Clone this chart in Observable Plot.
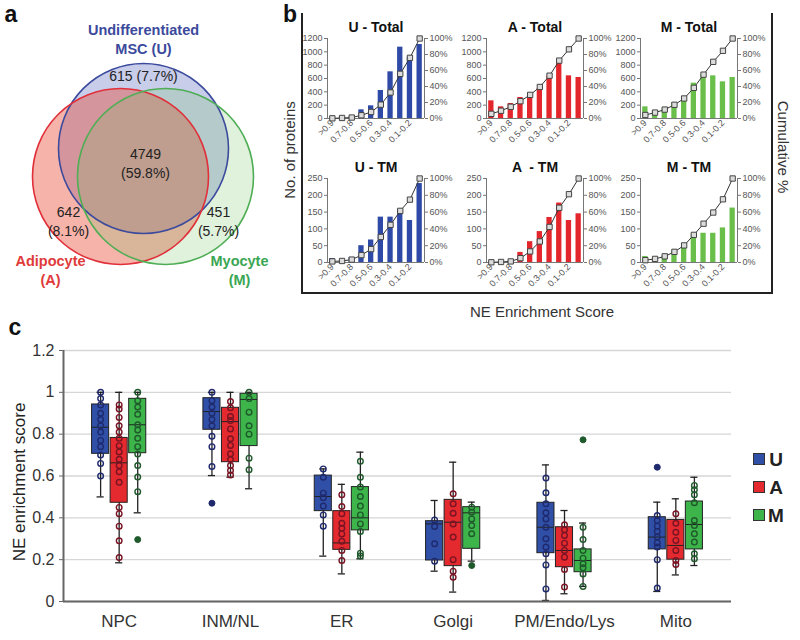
<!DOCTYPE html>
<html>
<head>
<meta charset="utf-8">
<script src="https://cdn.jsdelivr.net/npm/d3@7"></script>
<script src="https://cdn.jsdelivr.net/npm/@observablehq/plot@0.6"></script>
<style>
  html, body { margin: 0; padding: 0; background: #fff; }
  #page { position: relative; width: 800px; height: 640px; overflow: hidden; font-family: "Liberation Sans", Arial, sans-serif; color: #222; }
  .lbl { position: absolute; white-space: nowrap; transform: translate(-50%, -50%); line-height: 1; }
</style>
</head>
<body>
<div id="page"></div>
<script>
// ---------------- DATA ----------------
// Panel a: Venn diagram
const vennSetNames = ["Undifferentiated\nMSC (U)", "Adipocyte\n(A)", "Myocyte\n(M)"];
const vennRegionCounts = [615, 642, 451, 4749];        // U only, A only, M only, all three
const vennRegionPct = ["7.7%", "8.1%", "5.7%", "59.8%"];

// Panel b: histograms of NE enrichment score bins
const bins = [">0.9", "0.8-0.9", "0.7-0.8", "0.6-0.7", "0.5-0.6", "0.4-0.5", "0.3-0.4", "0.2-0.3", "0.1-0.2", "<0.1"];
const binTickLabels = [">0.9", "0.7-0.8", "0.5-0.6", "0.3-0.4", "0.1-0.2"];
const countTicksTotal = [0, 200, 400, 600, 800, 1000, 1200];
const countTicksTM = [0, 50, 100, 150, 200, 250];
const pctTicks = [0, 20, 40, 60, 80, 100];
const uTotal = [10, 20, 25, 130, 190, 420, 700, 1070, 920, 1110];
const aTotal = [265, 175, 225, 315, 360, 450, 640, 855, 640, 615];
const mTotal = [175, 120, 150, 240, 315, 530, 660, 640, 550, 615];
const uTM = [12, 5, 15, 50, 67, 135, 135, 155, 125, 235];
const aTM = [2, 3, 5, 30, 62, 92, 134, 177, 125, 145];
const mTM = [18, 10, 20, 35, 50, 82, 87, 87, 103, 162];

// Panel c: box plots  [whisker low, Q1, median, Q3, whisker high]
const categories = ["NPC", "INM/NL", "ER", "Golgi", "PM/Endo/Lys", "Mito"];
const groups = ["U", "A", "M"];
const yTicksC = [0, 0.2, 0.4, 0.6, 0.8, 1, 1.2];
const statsU = [[0.50, 0.706, 0.833, 0.942, 1.0], [0.602, 0.821, 0.908, 0.972, 1.0], [0.217, 0.432, 0.502, 0.602, 0.634],
                [0.145, 0.196, 0.371, 0.384, 0.483], [0.005, 0.231, 0.355, 0.472, 0.653], [0.048, 0.249, 0.308, 0.403, 0.475]];
const statsA = [[0.185, 0.472, 0.663, 0.782, 1.0], [0.594, 0.666, 0.86, 0.926, 1.0], [0.132, 0.247, 0.28, 0.432, 0.56],
                [0.045, 0.169, 0.379, 0.486, 0.666], [0.037, 0.164, 0.244, 0.355, 0.435], [0.127, 0.2, 0.268, 0.39, 0.491]];
const statsM = [[0.424, 0.709, 0.845, 0.969, 1.0], [0.539, 0.743, 0.966, 0.993, 1.0], [0.204, 0.34, 0.4, 0.547, 0.714],
                [0.193, 0.252, 0.424, 0.451, 0.475], [0.072, 0.14, 0.196, 0.249, 0.375], [0.172, 0.249, 0.368, 0.478, 0.594]];
const pointsU = [[1.0, 0.97, 0.94, 0.9, 0.87, 0.84, 0.81, 0.77, 0.74, 0.7, 0.66, 0.6],
                 [1.0, 0.96, 0.93, 0.9, 0.87, 0.84, 0.79, 0.74, 0.645, 0.47],
                 [0.634, 0.594, 0.518, 0.496, 0.456, 0.414, 0.36],
                 [0.39, 0.359, 0.276, 0.193],
                 [0.59, 0.52, 0.467, 0.424, 0.395, 0.355, 0.3, 0.26, 0.228, 0.175, 0.06],
                 [0.642, 0.411, 0.387, 0.36, 0.335, 0.308, 0.28, 0.26, 0.2, 0.064]];
const pointsA = [[0.94, 0.92, 0.88, 0.84, 0.81, 0.78, 0.745, 0.715, 0.68, 0.65, 0.62, 0.57, 0.45, 0.42, 0.36, 0.29, 0.21],
                 [0.956, 0.926, 0.884, 0.865, 0.825, 0.778, 0.746, 0.706, 0.679, 0.65, 0.626, 0.605],
                 [0.51, 0.454, 0.42, 0.374, 0.35, 0.323, 0.288, 0.244, 0.196],
                 [0.515, 0.467, 0.422, 0.371, 0.308, 0.2, 0.145, 0.116],
                 [0.367, 0.343, 0.316, 0.279, 0.244, 0.212, 0.153, 0.069],
                 [0.419, 0.374, 0.331, 0.292, 0.244, 0.196, 0.177]];
const pointsM = [[1.0, 0.96, 0.93, 0.895, 0.845, 0.82, 0.78, 0.74, 0.705, 0.65, 0.595, 0.525, 0.296],
                 [1.0, 0.97, 0.905, 0.84, 0.8, 0.685, 0.63],
                 [0.67, 0.594, 0.547, 0.502, 0.456, 0.414, 0.371, 0.335, 0.231, 0.217],
                 [0.451, 0.427, 0.395, 0.363, 0.324, 0.172],
                 [0.773, 0.355, 0.296, 0.244, 0.207, 0.18, 0.161, 0.132, 0.072],
                 [0.555, 0.534, 0.51, 0.472, 0.387, 0.363, 0.324, 0.284, 0.228, 0.204]];

// ---------------- STYLE / LAYOUT ----------------
const FONT = '"Liberation Sans", Arial, sans-serif';
const page = document.getElementById("page");
function place(el, left, top) {
  el.style.position = "absolute"; el.style.left = left + "px"; el.style.top = top + "px";
  page.appendChild(el);
}
function label(txt, x, y, o = {}) {
  const d = document.createElement("div");
  d.className = "lbl";
  d.textContent = txt;
  d.style.left = x + "px"; d.style.top = y + "px";
  d.style.fontSize = (o.size || 14) + "px";
  d.style.fontWeight = o.weight || "normal";
  d.style.color = o.color || "#222";
  if (o.rotate) d.style.transform = `translate(-50%, -50%) rotate(${o.rotate}deg)`;
  page.appendChild(d);
  return d;
}

// ---------------- PANEL a ----------------
const vennCircles = [
  {cx: 143, cy: 148, r: 85, fill: "#4a58b8", fo: 0.30, stroke: "#3b4a9c"},
  {cx: 120, cy: 176, r: 88, fill: "#e8402a", fo: 0.40, stroke: "#e0303a"},
  {cx: 165, cy: 176, r: 88, fill: "#70c060", fo: 0.22, stroke: "#4fae55"}
];
const vennRegionPos = [{x: 143, y: 74}, {x: 68, y: 220}, {x: 218, y: 220}, {x: 145, y: 162}];
const vennSetPos = [{x: 143, y: 38, c: "#3b4a9c"}, {x: 50, y: 269, c: "#e03a3a"}, {x: 239, y: 269, c: "#3aa653"}];
const regionText = vennRegionCounts.map((c, i) => i === 0 ? `${c} (${vennRegionPct[i]})` : `${c}\n(${vennRegionPct[i]})`);

const venn = Plot.plot({
  width: 270, height: 290, margin: 0,
  x: {domain: [0, 270], range: [0, 270], axis: null},
  y: {domain: [0, 290], range: [0, 290], axis: null},
  color: {type: "identity"},
  style: {background: "transparent", fontFamily: FONT, overflow: "visible"},
  marks: [
    ...vennCircles.map(c => Plot.dot([c], {x: "cx", y: "cy", r: c.r, fill: c.fill, fillOpacity: c.fo, stroke: "none"})),
    ...vennCircles.map(c => Plot.dot([c], {x: "cx", y: "cy", r: c.r, fill: "none", stroke: c.stroke, strokeWidth: 1.6})),
    Plot.text(regionText, {x: (d, i) => vennRegionPos[i].x, y: (d, i) => vennRegionPos[i].y, fontSize: 14, lineHeight: 1.36, fill: "#222"}),
    Plot.text(vennSetNames, {x: (d, i) => vennSetPos[i].x, y: (d, i) => vennSetPos[i].y, fill: (d, i) => vennSetPos[i].c,
      fontSize: 14.5, fontWeight: "bold", lineHeight: 1.3})
  ]
});
place(venn, 0, 0);
label("a", 11, 14, {size: 23, weight: "bold", color: "#111"});

// ---------------- PANEL b ----------------
function hist(title, counts, color, max, ticks, plotH) {
  const rows = counts.map((c, i) => ({i, bin: bins[i], count: c}));
  const cum = d3.cumsum(counts);
  const total = cum[cum.length - 1];
  const cumRows = counts.map((c, i) => ({i, pct: cum[i] / total * 100}));
  const xDom = [0, bins.length];
  return Plot.plot({
    width: 163, height: 26 + plotH + 32,
    marginLeft: 32, marginRight: 34, marginTop: 26, marginBottom: 32,
    x: {domain: xDom, axis: null},
    y: {domain: [0, max], axis: null},
    style: {background: "transparent", fontFamily: FONT, fontSize: "9px", color: "#555", overflow: "visible"},
    marks: [
      Plot.rectY(rows, {x1: "i", x2: d => d.i + 1, y: "count", fill: color, insetLeft: 2.2, insetRight: 2.2}),
      Plot.ruleY([0], {stroke: "#777", strokeWidth: 1}),
      Plot.ruleX(xDom, {stroke: "#777", strokeWidth: 1}),
      Plot.line(cumRows, {x: d => d.i + 0.5, y: d => d.pct / 100 * max, stroke: "#333", strokeWidth: 1}),
      Plot.dot(cumRows, {x: d => d.i + 0.5, y: d => d.pct / 100 * max, symbol: "square", r: 3, fill: "#dcdcdc", stroke: "#444", strokeWidth: 1}),
      Plot.axisY({anchor: "left", ticks, tickFormat: d => String(d), tickSize: 3, tickPadding: 2, label: null, stroke: "#777"}),
      Plot.axisY({anchor: "right", ticks: pctTicks.map(p => p / 100 * max), tickFormat: v => Math.round(v / max * 100) + "%",
        tickSize: 3, tickPadding: 2, label: null, stroke: "#777"}),
      Plot.axisX({ticks: binTickLabels.map(l => bins.indexOf(l) + 0.5), tickFormat: v => bins[Math.floor(v)],
        tickRotate: -45, tickSize: 0, tickPadding: 3, label: null}),
      Plot.text([title], {frameAnchor: "top", dy: -16, fontSize: 14, fontWeight: "bold", fill: "#111"})
    ]
  });
}
const panelB = [
  ["U - Total", uTotal, "#2e4aa6", 1200, countTicksTotal, 80, 295, 12],
  ["A - Total", aTotal, "#e3262b", 1200, countTicksTotal, 80, 454, 12],
  ["M - Total", mTotal, "#6abf4b", 1200, countTicksTotal, 80, 608, 12],
  ["U - TM", uTM, "#2e4aa6", 250, countTicksTM, 84, 295, 152],
  ["A  - TM", aTM, "#e3262b", 250, countTicksTM, 84, 454, 152],
  ["M - TM", mTM, "#6abf4b", 250, countTicksTM, 84, 608, 152]
];
for (const [t, c, col, mx, tk, h, left, top] of panelB) place(hist(t, c, col, mx, tk, h), left, top);

const frameB = document.createElement("div");
frameB.style.cssText = "width:468px;height:279px;border-left:2px solid #222;border-right:2px solid #222;border-bottom:2px solid #222;box-sizing:content-box;pointer-events:none";
place(frameB, 301, 13);
label("b", 290, 14, {size: 23, weight: "bold", color: "#111"});
label("No. of proteins", 289, 150, {size: 15, rotate: -90, color: "#333"});
label("Cumulative %", 783, 147, {size: 15, rotate: 90, color: "#333"});
label("NE Enrichment Score", 542, 311, {size: 15, color: "#333"});

// ---------------- PANEL c ----------------
const boxFill = {U: "#3050a8", A: "#e42a2e", M: "#3db54a"};
const ptStroke = {U: "#1f2a6e", A: "#7a1424", M: "#1f5a2c"};
const allStats = {U: statsU, A: statsA, M: statsM};
const allPoints = {U: pointsU, A: pointsA, M: pointsM};
const groupStep = 1 / 6, boxHalf = 0.0767, capHalf = 0.032;
const boxRows = [], ptRows = [];
groups.forEach((g, gi) => categories.forEach((cat, ci) => {
  const [lo, q1, med, q3, hi] = allStats[g][ci];
  boxRows.push({cat, grp: g, ci, gi, lo, q1, med, q3, hi});
  for (const v of allPoints[g][ci]) ptRows.push({cat, grp: g, ci, gi, v, out: v > hi + 0.005 || v < lo - 0.005});
}));
const pos = d => d.ci + (d.gi - 1) * groupStep;
const xDomC = [-0.5, categories.length - 0.5];

const boxPlot = Plot.plot({
  width: 740, height: 305, marginLeft: 63, marginRight: 9, marginTop: 15, marginBottom: 39,
  x: {domain: xDomC, axis: null},
  y: {domain: [0, 1.2], axis: null},
  color: {type: "identity"},
  style: {background: "transparent", fontFamily: FONT, color: "#333", overflow: "visible"},
  marks: [
    Plot.gridY({ticks: yTicksC, stroke: "#d6d6d6", strokeOpacity: 1, strokeWidth: 1.3}),
    Plot.ruleX(boxRows, {x: pos, y1: "lo", y2: "hi", stroke: "#222", strokeWidth: 1.3}),
    Plot.ruleY(boxRows, {y: "lo", x1: d => pos(d) - capHalf, x2: d => pos(d) + capHalf, stroke: "#222", strokeWidth: 1.3}),
    Plot.ruleY(boxRows, {y: "hi", x1: d => pos(d) - capHalf, x2: d => pos(d) + capHalf, stroke: "#222", strokeWidth: 1.3}),
    Plot.rect(boxRows, {x1: d => pos(d) - boxHalf, x2: d => pos(d) + boxHalf, y1: "q1", y2: "q3",
      fill: d => boxFill[d.grp], stroke: "#222", strokeWidth: 1}),
    Plot.ruleY(boxRows, {y: "med", x1: d => pos(d) - boxHalf, x2: d => pos(d) + boxHalf, stroke: "#222", strokeWidth: 1}),
    Plot.dot(ptRows.filter(d => !d.out), {x: pos, y: "v", r: 2.8, fill: "none", stroke: d => ptStroke[d.grp], strokeWidth: 1.4}),
    Plot.dot(ptRows.filter(d => d.out), {x: pos, y: "v", r: 3, fill: d => ptStroke[d.grp], stroke: d => ptStroke[d.grp], strokeWidth: 1}),
    Plot.ruleY([0], {stroke: "#666", strokeWidth: 2}),
    Plot.ruleX([xDomC[0]], {stroke: "#666", strokeWidth: 2}),
    Plot.axisY({ticks: yTicksC, tickFormat: d3.format("~g"), tickSize: 4, tickPadding: 5, fontSize: 16, label: null, stroke: "#666"}),
    Plot.axisX({ticks: d3.range(categories.length), tickFormat: i => categories[i], tickSize: 0, tickPadding: 13, fontSize: 17, label: null})
  ]
});
place(boxPlot, 0, 335);
label("c", 15, 327, {size: 23, weight: "bold", color: "#111"});
label("NE enrichment score", 19, 482, {size: 17, rotate: -90, color: "#222"});

// legend
groups.forEach((g, i) => {
  const sw = document.createElement("div");
  sw.style.cssText = `width:10px;height:10px;background:${boxFill[g]};border:1px solid #333`;
  place(sw, 753, 453 + i * 28);
  label(g, 776, 459 + i * 28, {size: 19, weight: "bold", color: "#222"});
});
</script>
</body>
</html>
